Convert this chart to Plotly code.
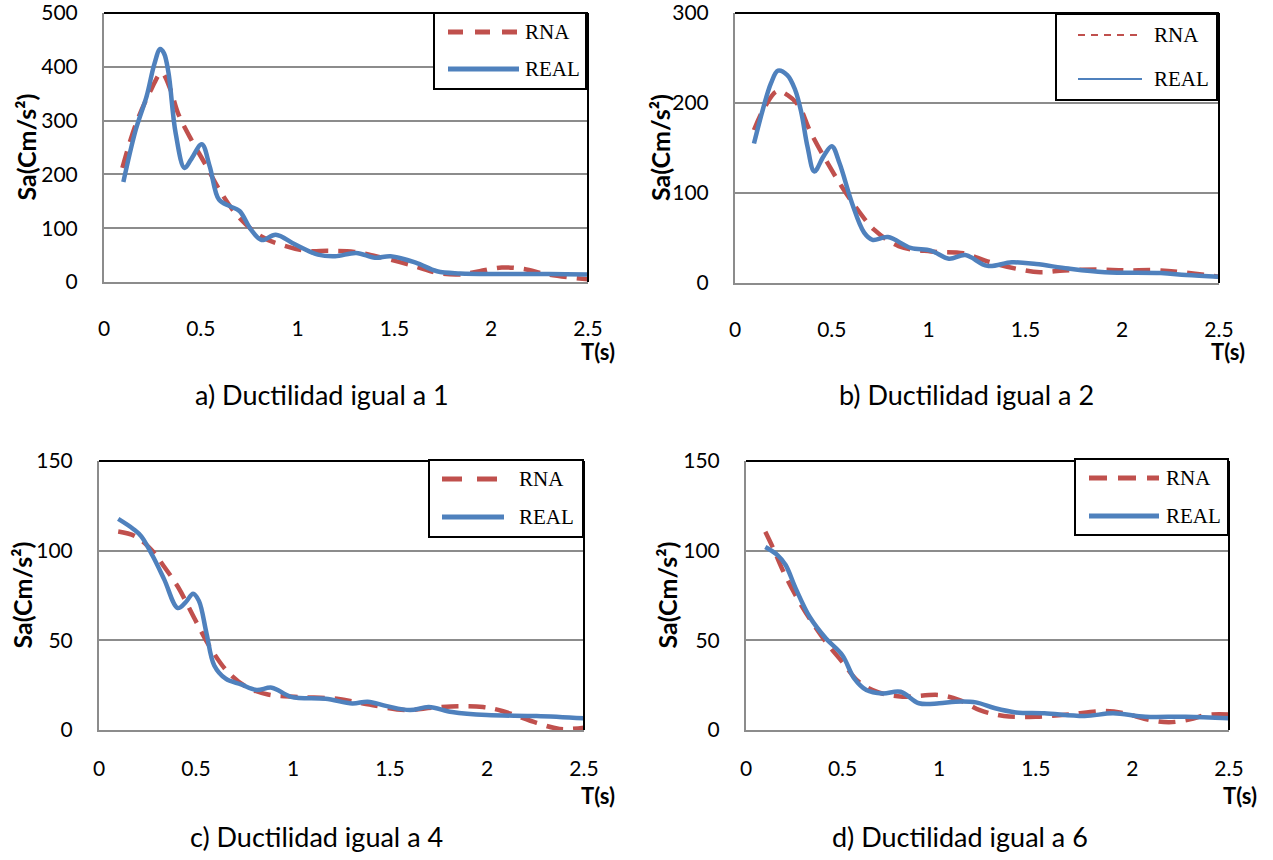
import plotly.graph_objects as go

W, H = 1273, 860

# ---------------- data ----------------
# a) Ductilidad igual a 1
T_a_real = [0.10, 0.164, 0.22, 0.26, 0.29, 0.31, 0.333, 0.37, 0.416, 0.45, 0.505, 0.546, 0.594, 0.65, 0.70, 0.758, 0.814, 0.887, 0.986, 1.105, 1.194, 1.303, 1.40, 1.48, 1.61, 1.72, 1.84, 2.04, 2.30, 2.5]
S_a_real = [186, 283, 345, 405, 433, 425, 389, 277, 212, 228, 256, 215, 153, 141, 132, 98, 78, 88, 70, 51, 48, 54, 45, 48, 36, 20, 16, 15, 15, 14]
T_a_rna = [0.095, 0.164, 0.244, 0.297, 0.343, 0.382, 0.45, 0.52, 0.60, 0.69, 0.81, 0.927, 1.045, 1.164, 1.293, 1.44, 1.60, 1.72, 1.84, 1.94, 2.055, 2.17, 2.29, 2.5]
S_a_rna = [212, 293, 358, 389, 358, 314, 265, 221, 169, 123, 85, 68, 58, 58, 56, 45, 30, 17, 14, 20, 27, 24, 14, 5]

# b) Ductilidad igual a 2
T_b_real = [0.098, 0.144, 0.186, 0.222, 0.27, 0.31, 0.343, 0.374, 0.41, 0.458, 0.50, 0.54, 0.604, 0.667, 0.71, 0.79, 0.907, 1.012, 1.105, 1.19, 1.304, 1.43, 1.555, 1.722, 1.91, 2.20, 2.33, 2.5]
S_b_real = [155, 193, 222, 236, 231, 215, 189, 152, 124, 141, 152, 133, 89, 56, 48, 51, 39, 36, 27, 31, 19, 23, 21, 16, 12, 11, 9, 7]
T_b_rna = [0.098, 0.155, 0.217, 0.27, 0.332, 0.385, 0.468, 0.552, 0.635, 0.72, 0.845, 1.012, 1.18, 1.304, 1.45, 1.576, 1.70, 1.87, 2.015, 2.20, 2.5]
S_b_rna = [170, 196, 213, 209, 196, 170, 137, 107, 81, 59, 41, 35, 33, 24, 16, 12, 14, 15, 14, 14, 7]

# c) Ductilidad igual a 4
T_c_real = [0.099, 0.178, 0.218, 0.277, 0.336, 0.406, 0.445, 0.485, 0.515, 0.554, 0.594, 0.653, 0.732, 0.812, 0.891, 0.99, 1.168, 1.306, 1.385, 1.484, 1.603, 1.70, 1.82, 2.0, 2.256, 2.5]
S_c_real = [117.7, 112, 108, 97, 84, 68, 71, 76, 72, 54, 36, 28.6, 25.4, 22.3, 23.6, 18.5, 17.4, 14.8, 15.8, 13.3, 11.1, 12.8, 10, 8.3, 7.8, 6.5]
T_c_rna = [0.099, 0.188, 0.277, 0.336, 0.406, 0.495, 0.564, 0.653, 0.752, 0.871, 1.03, 1.227, 1.385, 1.583, 1.72, 1.86, 1.98, 2.078, 2.256, 2.375, 2.5]
S_c_rna = [110.7, 108, 99.6, 91, 80, 61.6, 47.7, 33.7, 24.5, 19.8, 18.4, 17.4, 14.3, 11.1, 12.4, 13.3, 12.8, 10.6, 4.0, 0.6, 1.3]

# d) Ductilidad igual a 6
T_d_real = [0.10, 0.163, 0.205, 0.257, 0.33, 0.414, 0.498, 0.56, 0.623, 0.707, 0.80, 0.895, 1.0, 1.084, 1.19, 1.29, 1.397, 1.544, 1.753, 1.90, 2.067, 2.276, 2.5]
S_d_real = [102, 97.5, 92, 79, 63, 51, 41.8, 28.8, 22.3, 20.4, 21.3, 14.9, 14.9, 15.8, 15.4, 12.1, 9.8, 9.3, 7.8, 9.3, 7.4, 7.4, 6.5]
T_d_rna = [0.10, 0.142, 0.195, 0.257, 0.33, 0.414, 0.498, 0.582, 0.686, 0.81, 1.0, 1.105, 1.21, 1.335, 1.502, 1.67, 1.856, 1.96, 2.067, 2.19, 2.32, 2.38, 2.5]
S_d_rna = [110.5, 101, 88, 75, 62, 49, 38, 27, 21, 18.6, 19.5, 16.7, 11.1, 7.8, 7.4, 8.7, 10.6, 9.3, 6.1, 4.3, 6.5, 8.4, 8.7]

x_ticks = [0, 0.5, 1, 1.5, 2, 2.5]
x_tick_labels = ["0", "0.5", "1", "1.5", "2", "2.5"]
y_max = [500, 300, 150, 150]
y_step = [100, 100, 50, 50]
captions = ["a) Ductilidad igual a 1", "b) Ductilidad igual a 2",
            "c) Ductilidad igual a 4", "d) Ductilidad igual a 6"]
series_names = ["RNA", "REAL"]
y_title = "Sa(Cm/s²)"
x_title = "T(s)"

data = [
    (T_a_rna, S_a_rna, T_a_real, S_a_real),
    (T_b_rna, S_b_rna, T_b_real, S_b_real),
    (T_c_rna, S_c_rna, T_c_real, S_c_real),
    (T_d_rna, S_d_rna, T_d_real, S_d_real),
]

RED = "#C0504D"
BLUE = "#4F81BD"
GRID = "#8C8C8C"
FONT = "Lato"
SERIF = "Liberation Serif"

def PX(x):
    return x / W

def PY(y):
    return 1 - y / H

# pixel geometry of each plot area: left, right, top, bottom
boxes = [(104, 588, 13, 282), (735, 1219, 13, 283), (99, 584, 461, 730), (746, 1229, 461, 730)]
xlab_standoff = [27, 27, 19, 19]
ytitle_x = [26, 660, 21, 666]
ts_pos = [(598, 351), (1228, 351), (598, 795), (1240, 795)]
caption_pos = [(322, 394), (966, 394), (316, 836), (960, 836)]
# legend: box (l, r, t, b), line x0, x1, text x, y rna, y real, line widths, dash
legends = [
    ((434, 586, 13, 89), 448, 519, 523, 32, 69, 5, "15px,12px"),
    ((1056, 1217, 14, 100), 1078, 1142, 1152, 35, 79, 2, "7px,6px"),
    ((429, 583, 460, 537), 442, 504, 517, 479, 517, 5, "20px,15px"),
    ((1075, 1228, 459, 535), 1089, 1159, 1164, 478, 516, 5, "18px,11px"),
]
plot_widths = [4.5, 4.5, 4.5, 4.5]

fig = go.Figure()
shapes = []
annotations = []

for i, (t_r, s_r, t_e, s_e) in enumerate(data):
    k = "" if i == 0 else str(i + 1)
    l, r, t, b = boxes[i]
    fig.add_trace(go.Scatter(x=t_r, y=s_r, mode="lines", name=series_names[0],
                             line=dict(color=RED, width=plot_widths[i], dash="17px,10px", shape="spline", smoothing=1.0),
                             xaxis="x" + k, yaxis="y" + k, showlegend=False))
    fig.add_trace(go.Scatter(x=t_e, y=s_e, mode="lines", name=series_names[1],
                             line=dict(color=BLUE, width=plot_widths[i], shape="spline", smoothing=1.0),
                             xaxis="x" + k, yaxis="y" + k, showlegend=False))
    fig.layout["xaxis" + k] = dict(
        domain=[PX(l), PX(r)], anchor="y" + k, range=[0, 2.5], automargin=False,
        tickvals=x_ticks, ticktext=x_tick_labels, showgrid=False, zeroline=False,
        showline=True, linecolor=GRID, linewidth=2, ticks="",
        ticklabelstandoff=xlab_standoff[i], ticklabeloverflow="allow",
        tickfont=dict(family=FONT, size=21, color="black"))
    fig.layout["yaxis" + k] = dict(
        domain=[PY(b), PY(t)], anchor="x" + k, range=[0, y_max[i]], automargin=False,
        tick0=0, dtick=y_step[i], showgrid=True, gridcolor=GRID, gridwidth=2,
        zeroline=False, showline=True, linecolor=GRID, linewidth=2, ticks="",
        ticklabelstandoff=20, ticklabeloverflow="allow",
        tickfont=dict(family=FONT, size=21, color="black"))
    # black top and right border of plot area
    shapes.append(dict(type="line", xref="x" + k + " domain", yref="y" + k + " domain",
                       x0=0, x1=1, y0=1, y1=1, line=dict(color="black", width=2)))
    shapes.append(dict(type="line", xref="x" + k + " domain", yref="y" + k + " domain",
                       x0=1, x1=1, y0=0, y1=1, line=dict(color="black", width=2)))
    # y-axis title
    annotations.append(dict(text="<b>" + y_title + "</b>", x=PX(ytitle_x[i]), y=PY((t + b) / 2),
                            xref="paper", yref="paper",
                            textangle=-90, showarrow=False, xanchor="center", yanchor="middle",
                            font=dict(family=FONT, size=25, color="black")))
    # x-axis title
    annotations.append(dict(text="<b>" + x_title + "</b>", x=PX(ts_pos[i][0]), y=PY(ts_pos[i][1]),
                            xref="paper", yref="paper",
                            showarrow=False, xanchor="center", yanchor="middle",
                            font=dict(family=FONT, size=22, color="black")))
    # caption
    annotations.append(dict(text=captions[i], x=PX(caption_pos[i][0]), y=PY(caption_pos[i][1]), xref="paper",
                            yref="paper", showarrow=False, xanchor="center", yanchor="middle",
                            font=dict(family=FONT, size=27, color="black")))
    # legend box
    (bl, br, bt, bb), lx0, lx1, tx, yr, ye, lw, dsh = legends[i]
    shapes.append(dict(type="rect", xref="paper", yref="paper", x0=PX(bl), x1=PX(br), y0=PY(bb), y1=PY(bt),
                       line=dict(color="black", width=2), fillcolor="white", layer="above"))
    shapes.append(dict(type="line", xref="paper", yref="paper", x0=PX(lx0), x1=PX(lx1), y0=PY(yr), y1=PY(yr),
                       line=dict(color=RED, width=lw, dash=dsh), layer="above"))
    shapes.append(dict(type="line", xref="paper", yref="paper", x0=PX(lx0), x1=PX(lx1), y0=PY(ye), y1=PY(ye),
                       line=dict(color=BLUE, width=lw), layer="above"))
    for nm, yy in zip(series_names, (yr, ye)):
        annotations.append(dict(text=nm, x=PX(tx), y=PY(yy), xref="paper", yref="paper", showarrow=False,
                                xanchor="left", yanchor="middle",
                                font=dict(family=SERIF, size=21, color="black")))

fig.update_layout(template="none", width=W, height=H, margin=dict(l=0, r=0, t=0, b=0),
                  paper_bgcolor="white", plot_bgcolor="white",
                  shapes=shapes, annotations=annotations, showlegend=False)

# remove the browser's default 8px page margin so the figure sits at the window's corner
fig.write_html("out.html", config={"displayModeBar": False},
               post_script="document.body.style.margin='0px';")
